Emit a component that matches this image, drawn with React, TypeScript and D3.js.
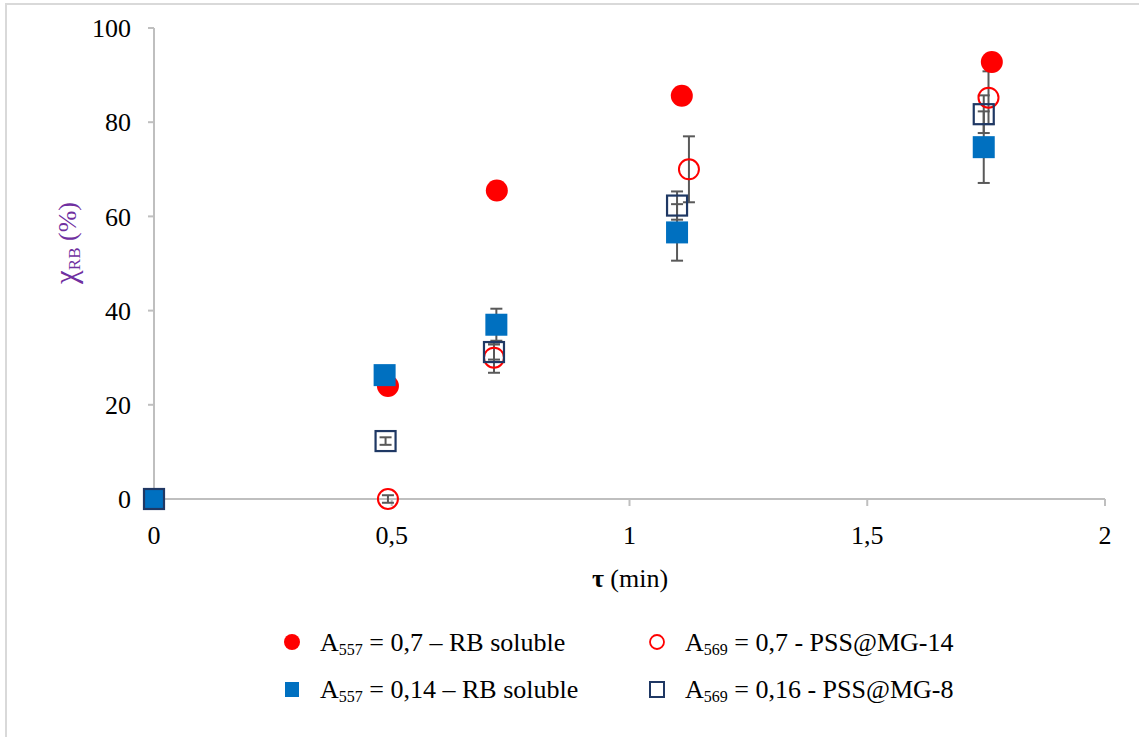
import React from "react";
import * as d3 from "d3";

const xTicks = [0, 0.5, 1, 1.5, 2];
const xTickLabels = ["0", "0,5", "1", "1,5", "2"];
const yTicks = [0, 20, 40, 60, 80, 100];

// A557 = 0,7 – RB soluble (red filled circles)
const redFilledX = [0, 0.492, 0.721, 1.11, 1.762];
const redFilledY = [0, 24.0, 65.5, 85.6, 92.8];

// A569 = 0,7 - PSS@MG-14 (red open circles)
const redOpenX = [0.492, 0.715, 1.125, 1.755];
const redOpenY = [0, 30.0, 70.0, 85.2];
const redOpenErr = [0.8, 3.2, 7.0, 5.6];

// A557 = 0,14 – RB soluble (blue filled squares)
const blueX = [0, 0.485, 0.72, 1.1, 1.745];
const blueY = [0, 26.3, 37.0, 56.6, 74.7];
const blueErr = [0, 0.5, 3.4, 6.0, 7.6];

// A569 = 0,16 - PSS@MG-8 (navy open squares)
const navyX = [0, 0.487, 0.715, 1.1, 1.745];
const navyY = [0, 12.3, 31.2, 62.3, 81.7];
const navyErr = [0, 0.8, 1.6, 3.0, 4.0];

const RED = "#FF0000";
const BLUE = "#0070C0";
const NAVY = "#1F3864";
const GRAY_AX = "#BFBFBF";
const ERR = "#595959";
const FONT = "Liberation Serif, Times New Roman, serif";
const FS = 26;

export default function App() {
  const W = 1139, H = 737;
  const x = d3.scaleLinear().domain([0, 2]).range([154, 1105]);
  const y = d3.scaleLinear().domain([0, 100]).range([499, 28]);

  const errBars = (xs: number[], ys: number[], es: number[], key: string) =>
    xs.map((xv, i) =>
      es[i] > 0 ? (
        <g key={key + i} stroke={ERR} strokeWidth={2}>
          <line x1={x(xv)} x2={x(xv)} y1={y(ys[i] - es[i])} y2={y(ys[i] + es[i])} />
          <line x1={x(xv) - 6} x2={x(xv) + 6} y1={y(ys[i] - es[i])} y2={y(ys[i] - es[i])} />
          <line x1={x(xv) - 6} x2={x(xv) + 6} y1={y(ys[i] + es[i])} y2={y(ys[i] + es[i])} />
        </g>
      ) : null
    );

  const legendItems = [
    { lx: 292, ly: 642, kind: "redFilled", pre: "A", sub: "557", post: " = 0,7 – RB soluble" },
    { lx: 657, ly: 642, kind: "redOpen", pre: "A", sub: "569", post: " = 0,7 - PSS@MG-14" },
    { lx: 292, ly: 689, kind: "blue", pre: "A", sub: "557", post: " = 0,14 – RB soluble" },
    { lx: 657, ly: 689, kind: "navy", pre: "A", sub: "569", post: " = 0,16 - PSS@MG-8" },
  ];

  const legendMarker = (kind: string, cx: number, cy: number) => {
    if (kind === "redFilled") return <circle cx={cx} cy={cy} r={8} fill={RED} />;
    if (kind === "redOpen") return <circle cx={cx} cy={cy} r={7} fill="none" stroke={RED} strokeWidth={1.8} />;
    if (kind === "blue") return <rect x={cx - 7} y={cy - 7} width={14} height={15} fill={BLUE} />;
    return <rect x={cx - 7} y={cy - 7} width={14} height={15} fill="none" stroke={NAVY} strokeWidth={2} />;
  };

  const ts = { fontFamily: FONT } as React.CSSProperties;

  return (
    <svg width={W} height={H} style={{ position: "absolute", left: 0, top: 0, background: "#fff" }}>
      <rect x={6} y={4} width={W + 10} height={H + 10} fill="#fff" stroke="#D9D9D9" strokeWidth={2} />

      {/* axes */}
      <line x1={x(0)} x2={x(2)} y1={y(0)} y2={y(0)} stroke={GRAY_AX} strokeWidth={2} />
      <line x1={x(0)} x2={x(0)} y1={y(0)} y2={y(100)} stroke={GRAY_AX} strokeWidth={2} />
      {yTicks.map((t) => (
        <g key={"yt" + t}>
          <line x1={x(0) - 6} x2={x(0)} y1={y(t)} y2={y(t)} stroke={GRAY_AX} strokeWidth={2} />
          <text x={131} y={y(t)} dy="0.35em" textAnchor="end" style={ts} fontSize={FS} fill="#000">
            {t}
          </text>
        </g>
      ))}
      {xTicks.map((t, i) => (
        <g key={"xt" + t}>
          <line x1={x(t)} x2={x(t)} y1={y(0)} y2={y(0) + 7} stroke={GRAY_AX} strokeWidth={2} />
          <text x={x(t)} y={535} dy="0.35em" textAnchor="middle" style={ts} fontSize={FS} fill="#000">
            {xTickLabels[i]}
          </text>
        </g>
      ))}

      {/* axis titles */}
      <text x={630} y={578} dy="0.35em" textAnchor="middle" style={ts} fontSize={FS} fill="#000">
        <tspan fontWeight="bold">τ</tspan>
        <tspan> (min)</tspan>
      </text>
      <text
        transform={`translate(76,243) rotate(-90)`}
        textAnchor="middle"
        style={ts}
        fontSize={FS}
        fill="#7030A0"
      >
        <tspan fontSize={31}>χ</tspan>
        <tspan fontSize={17} dy={4}>RB</tspan>
        <tspan dy={-4}> (%)</tspan>
      </text>

      {/* error bars */}
      {errBars(redOpenX, redOpenY, redOpenErr, "ero")}
      {errBars(blueX, blueY, blueErr, "eb")}
      {errBars(navyX, navyY, navyErr, "en")}

      {/* series */}
      {redFilledX.map((xv, i) => (
        <circle key={"rf" + i} cx={x(xv)} cy={y(redFilledY[i])} r={11} fill={RED} />
      ))}
      {redOpenX.map((xv, i) => (
        <circle key={"ro" + i} cx={x(xv)} cy={y(redOpenY[i])} r={10} fill="none" stroke={RED} strokeWidth={2} />
      ))}
      {blueX.map((xv, i) => (
        <rect key={"b" + i} x={x(xv) - 11} y={y(blueY[i]) - 11} width={22} height={22} fill={BLUE} />
      ))}
      {navyX.map((xv, i) => (
        <rect key={"n" + i} x={x(xv) - 10} y={y(navyY[i]) - 10} width={20} height={20} fill="none" stroke={NAVY} strokeWidth={2.2} />
      ))}

      {/* legend */}
      {legendItems.map((it, i) => (
        <g key={"lg" + i}>
          {legendMarker(it.kind, it.lx, it.ly)}
          <text x={it.lx + 28} y={it.ly} dy="0.35em" style={ts} fontSize={FS} fill="#000">
            <tspan>{it.pre}</tspan>
            <tspan fontSize={16} dy={4}>{it.sub}</tspan>
            <tspan dy={-4}>{it.post}</tspan>
          </text>
        </g>
      ))}
    </svg>
  );
}
